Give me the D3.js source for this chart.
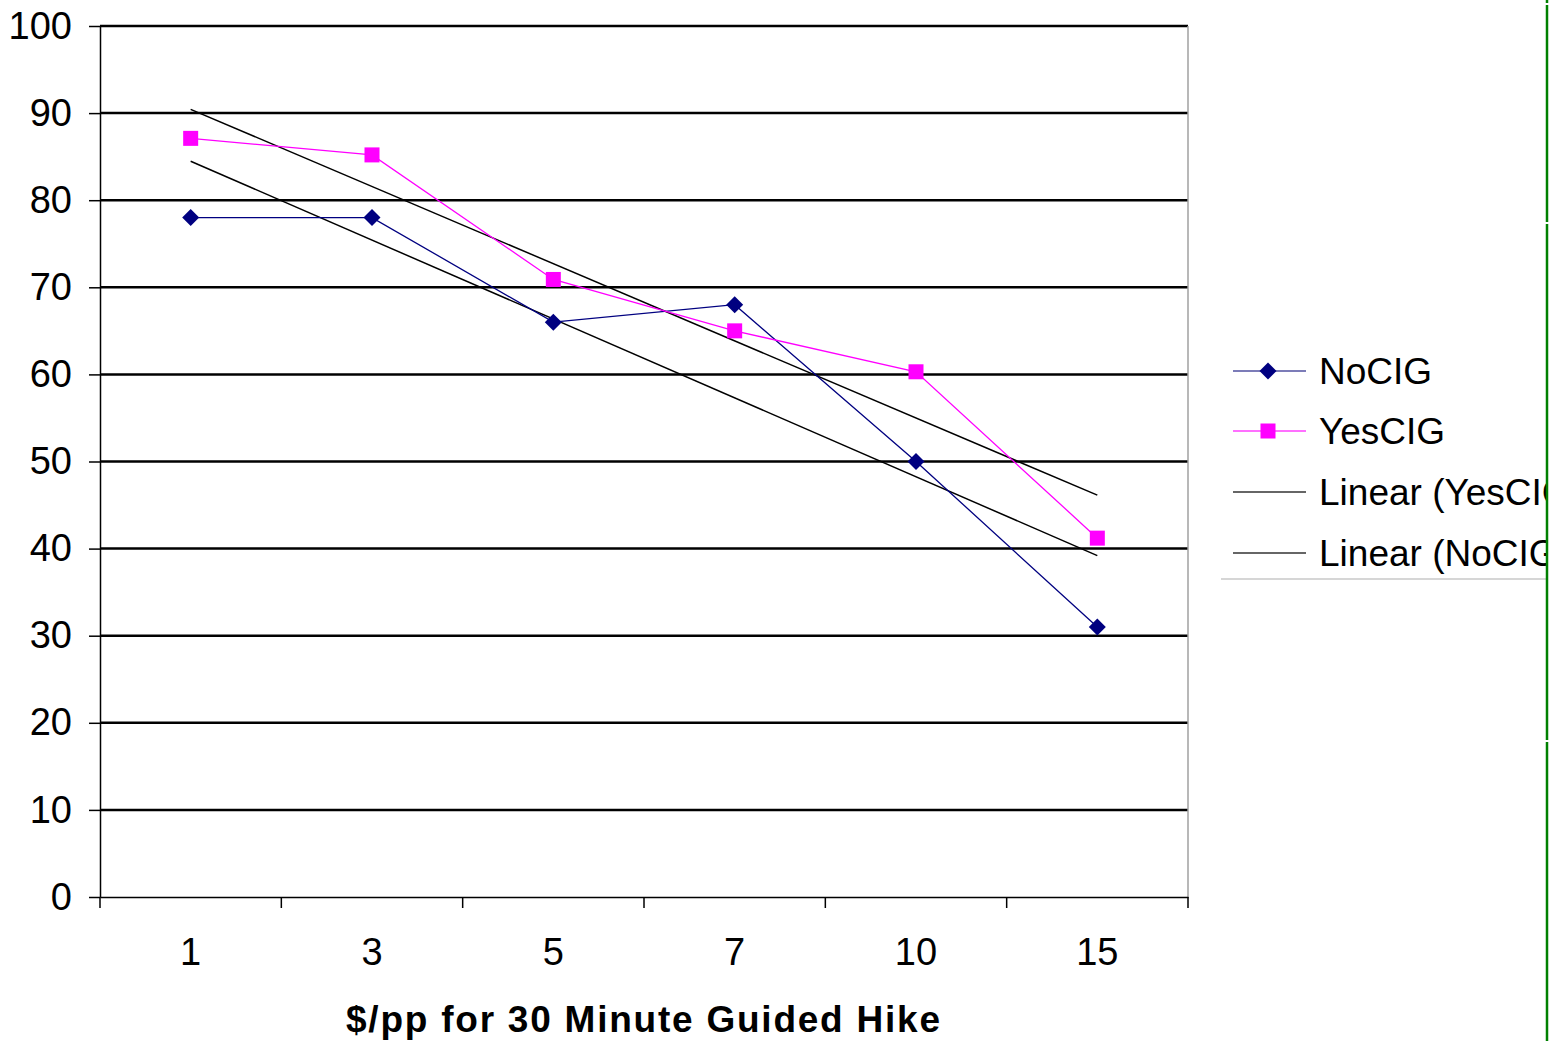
<!DOCTYPE html>
<html><head><meta charset="utf-8">
<script src="https://cdn.jsdelivr.net/npm/d3@7"></script>
<style>body{margin:0;background:#fff}svg{display:block}</style>
</head><body>
<svg id="c" width="1556" height="1041"></svg>
<script>
const categories = ["1","3","5","7","10","15"];
const noCIG = [78, 78, 66, 68, 50, 31];
const yesCIG = [87.1, 85.2, 70.9, 65, 60.3, 41.2];
const yTicks = [0,10,20,30,40,50,60,70,80,90,100];
const legendLabels = ["NoCIG","YesCIG","Linear (YesCIG)","Linear (NoCIG)"];
const xTitle = "$/pp for 30 Minute Guided Hike";

const svg = d3.select("#c");
const L = 100, R = 1188, T = 26, B = 897;
const font = "'Liberation Sans', Arial, sans-serif";

const x = d3.scaleBand().domain(categories).range([L, R]).padding(0);
const y = d3.scaleLinear().domain([0, 100]).range([B, T]);
const cx = c => x(c) + x.bandwidth() / 2;

// gridlines
svg.append("g").selectAll("line").data(yTicks.filter(d => d > 0)).join("line")
  .attr("x1", L).attr("x2", R).attr("y1", d => y(d)).attr("y2", d => y(d))
  .attr("stroke", "#000").attr("stroke-width", 2.5);

// right border
svg.append("line").attr("x1", R).attr("x2", R).attr("y1", T).attr("y2", B)
  .attr("stroke", "#a0a0a0").attr("stroke-width", 1.5);

// y axis
const yAxis = d3.axisLeft(y).tickValues(yTicks).tickSize(11).tickPadding(17).tickSizeOuter(0);
const gy = svg.append("g").attr("transform", `translate(${L},0)`).call(yAxis);
gy.select(".domain").attr("stroke", "#000").attr("stroke-width", 1.5);
gy.selectAll(".tick line").attr("stroke", "#000").attr("stroke-width", 1.5);
gy.selectAll("text").attr("font-family", font).attr("font-size", 38).attr("fill", "#000");

// x axis
const xAxis = d3.axisBottom(x).tickSize(0).tickPadding(41);
const gx = svg.append("g").attr("transform", `translate(0,${B})`).call(xAxis);
gx.select(".domain").attr("stroke", "#000").attr("stroke-width", 1.5);
gx.selectAll("text").attr("font-family", font).attr("font-size", 38).attr("fill", "#000");
// boundary ticks
const bounds = categories.map(c => x(c)).concat([R]);
gx.append("g").selectAll("line").data(bounds).join("line")
  .attr("x1", d => d).attr("x2", d => d).attr("y1", 0).attr("y2", 11)
  .attr("stroke", "#000").attr("stroke-width", 1.5);

// trendlines (least squares on category index)
function fit(vals) {
  const xs = vals.map((_, i) => i + 1);
  const mx = d3.mean(xs), my = d3.mean(vals);
  const s = d3.sum(xs.map((xi, i) => (xi - mx) * (vals[i] - my))) / d3.sum(xs.map(xi => (xi - mx) ** 2));
  return xs.map(xi => my + s * (xi - mx));
}
const line = d3.line().x((d, i) => cx(categories[i])).y(d => y(d));
[fit(yesCIG), fit(noCIG)].forEach(t => {
  svg.append("line")
    .attr("x1", cx(categories[0])).attr("y1", y(t[0]))
    .attr("x2", cx(categories[categories.length - 1])).attr("y2", y(t[t.length - 1]))
    .attr("stroke", "#000").attr("stroke-width", 1.5);
});

// series lines
svg.append("path").datum(noCIG).attr("d", line).attr("fill", "none").attr("stroke", "#000080").attr("stroke-width", 1.3);
svg.append("path").datum(yesCIG).attr("d", line).attr("fill", "none").attr("stroke", "#ff00ff").attr("stroke-width", 1.3);

const diamond = (px, py, r) => `M${px},${py - r}L${px + r},${py}L${px},${py + r}L${px - r},${py}Z`;
svg.append("g").selectAll("path").data(noCIG).join("path")
  .attr("d", (d, i) => diamond(cx(categories[i]), y(d), 8.5)).attr("fill", "#000080");
svg.append("g").selectAll("rect").data(yesCIG).join("rect")
  .attr("x", (d, i) => cx(categories[i]) - 7.5).attr("y", d => y(d) - 7.5)
  .attr("width", 15).attr("height", 15).attr("fill", "#ff00ff");

// x title
svg.append("text").attr("x", 643).attr("y", 1032).attr("text-anchor", "middle")
  .attr("font-family", font).attr("font-size", 37).attr("font-weight", "bold")
  .attr("textLength", 594).attr("lengthAdjust", "spacing").text(xTitle);

// legend (clipped at right edge)
svg.append("clipPath").attr("id", "lc").append("rect").attr("x", 1200).attr("y", 300).attr("width", 346).attr("height", 320);
const lg = svg.append("g").attr("clip-path", "url(#lc)");
lg.append("line").attr("x1", 1221).attr("x2", 1556).attr("y1", 579).attr("y2", 579).attr("stroke", "#c8c8c8").attr("stroke-width", 1.5);
const rowsY = [371, 431, 492, 553];
const lcol = ["#5050a0", "#ff40ff", "#333", "#333"];
legendLabels.forEach((lab, i) => {
  const ry = rowsY[i];
  lg.append("line").attr("x1", 1233).attr("x2", 1306).attr("y1", ry).attr("y2", ry).attr("stroke", lcol[i]).attr("stroke-width", 1.5);
  if (i === 0) lg.append("path").attr("d", diamond(1268, ry, 8.5)).attr("fill", "#000080");
  if (i === 1) lg.append("rect").attr("x", 1260.5).attr("y", ry - 7.5).attr("width", 15).attr("height", 15).attr("fill", "#ff00ff");
  lg.append("text").attr("x", 1319).attr("y", ry).attr("dy", "0.35em")
    .attr("font-family", font).attr("font-size", 37).text(lab);
});

// green right edge line (with small breaks)
const segs = [[0, 3], [5, 222], [224, 740], [742, 1041]];
svg.append("g").selectAll("line").data(segs).join("line")
  .attr("x1", 1547).attr("x2", 1547).attr("y1", d => d[0]).attr("y2", d => d[1])
  .attr("stroke", "#008000").attr("stroke-width", 2.5);
</script>
</body></html>
